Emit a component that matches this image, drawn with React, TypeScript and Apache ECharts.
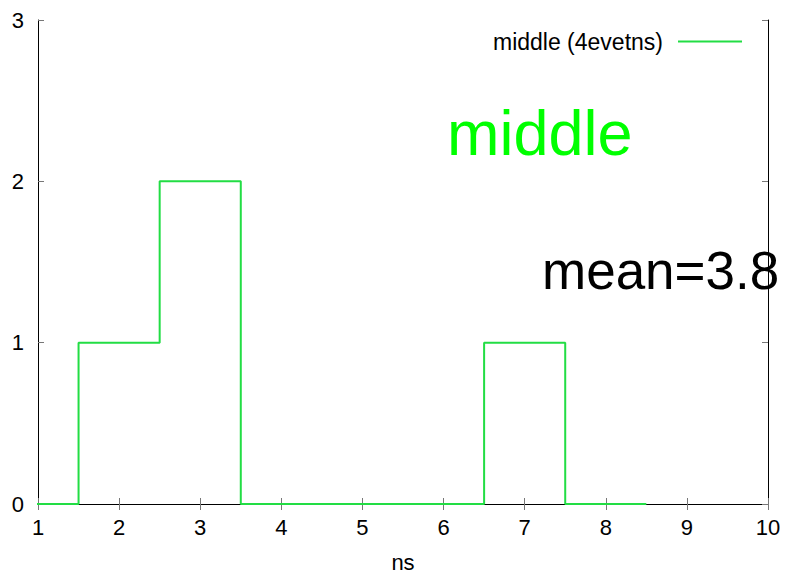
import React, { useEffect, useRef } from "react";
import * as echarts from "echarts";

// Histogram of event times (ns): bin centres and counts per bin
const binCenters = [1, 2, 3, 4, 5, 6, 7, 8];
const binCounts = [0, 1, 2, 0, 0, 0, 1, 0];
const xTicks = [1, 2, 3, 4, 5, 6, 7, 8, 9, 10];
const yTicks = [0, 1, 2, 3];
const seriesName = "middle (4evetns)";
const titleText = "middle";
const meanText = "mean=3.8";
const xAxisName = "ns";

const FONT = '"Liberation Sans", Arial, Helvetica, sans-serif';
const LINE_GREEN = "#22dd44";

// Step outline: each bin runs from its left edge to its right edge at its count
function stepPoints(): number[][] {
  const pts: number[][] = binCenters.map((c, i) => [c - 0.5, binCounts[i]]);
  const last = binCenters.length - 1;
  pts.push([binCenters[last] + 0.5, binCounts[last]]);
  return pts;
}

export default function App() {
  const ref = useRef<HTMLDivElement>(null);

  useEffect(() => {
    if (!ref.current) return;
    const chart = echarts.init(ref.current, undefined, { renderer: "svg" });

    const tickStyle = { show: true, inside: true, length: 6, lineStyle: { color: "#777", width: 1 } };
    const axisLine = { show: true, lineStyle: { color: "#000", width: 1 } };
    const xMin = xTicks[0];
    const xMax = xTicks[xTicks.length - 1];
    const yMin = yTicks[0];
    const yMax = yTicks[yTicks.length - 1];

    chart.setOption({
      animation: false,
      backgroundColor: "#fff",
      grid: { left: 38, width: 730, top: 20, height: 489, containLabel: false },
      legend: {
        data: [{ name: seriesName, icon: "rect" }],
        right: 41,
        top: 25,
        align: "right",
        itemWidth: 64,
        itemHeight: 2,
        itemStyle: { color: LINE_GREEN },
        textStyle: { fontFamily: FONT, fontSize: 23, color: "#000", padding: [0, 10, 0, 0] },
      },
      xAxis: [
        {
          type: "value",
          min: xMin,
          max: xMax,
          interval: 1,
          position: "bottom",
          axisLine,
          axisTick: tickStyle,
          splitLine: { show: false },
          axisLabel: { fontFamily: FONT, fontSize: 22, color: "#000", margin: 12 },
          name: xAxisName,
          nameLocation: "middle",
          nameGap: 47,
          nameTextStyle: { fontFamily: FONT, fontSize: 22, color: "#000" },
        },
        {
          type: "value",
          min: xMin,
          max: xMax,
          interval: 1,
          position: "top",
          axisLine,
          axisTick: tickStyle,
          splitLine: { show: false },
          axisLabel: { show: false },
        },
      ],
      yAxis: [
        {
          type: "value",
          min: yMin,
          max: yMax,
          interval: 1,
          position: "left",
          axisLine,
          axisTick: tickStyle,
          splitLine: { show: false },
          axisLabel: { fontFamily: FONT, fontSize: 22, color: "#000", margin: 14 },
        },
        {
          type: "value",
          min: yMin,
          max: yMax,
          interval: 1,
          position: "right",
          axisLine,
          axisTick: tickStyle,
          splitLine: { show: false },
          axisLabel: { show: false },
        },
      ],
      series: [
        {
          name: seriesName,
          type: "line",
          step: "end",
          xAxisIndex: 0,
          yAxisIndex: 0,
          data: stepPoints(),
          symbol: "none",
          clip: true,
          color: LINE_GREEN,
          lineStyle: { color: LINE_GREEN, width: 2 },
          z: 1,
        },
      ],
      graphic: [
        {
          type: "text",
          z: 0,
          style: {
            x: 447,
            y: 133,
            text: titleText,
            font: `63px ${FONT}`,
            fill: "#00ff00",
            verticalAlign: "middle",
          },
        },
        {
          type: "text",
          z: 0,
          style: {
            x: 542,
            y: 270,
            text: meanText,
            font: `53px ${FONT}`,
            fill: "#000",
            verticalAlign: "middle",
          },
        },
      ],
    });

    return () => chart.dispose();
  }, []);

  return (
    <div
      ref={ref}
      style={{ position: "absolute", left: 0, top: 0, width: 788, height: 578 }}
    />
  );
}
